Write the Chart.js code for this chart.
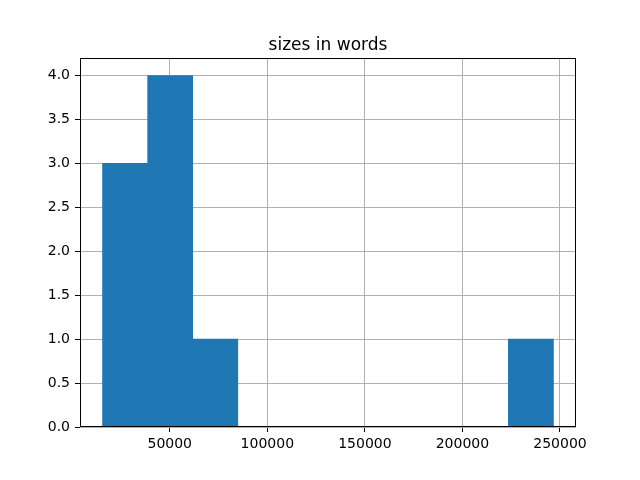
<!DOCTYPE html>
<html lang="en">
<head>
<meta charset="UTF-8">
<title>sizes in words</title>
<script src="https://cdn.jsdelivr.net/npm/chart.js"></script>
<style>
  html, body { margin: 0; padding: 0; background: #fff; }
  #wrap { width: 640px; height: 480px; }
</style>
</head>
<body>
<div id="wrap"><canvas id="histChart" width="640" height="480"></canvas></div>
<script>
// histogram data
const titleText = 'sizes in words';
const binEdges = [15550, 38660, 61770, 84880, 107990, 131100, 154210, 177320, 200430, 223540, 246650];
const counts = [3, 4, 1, 0, 0, 0, 0, 0, 0, 1];
const xTicks = [50000, 100000, 150000, 200000, 250000];
const yTicks = [0, 0.5, 1, 1.5, 2, 2.5, 3, 3.5, 4];

const span = binEdges[binEdges.length - 1] - binEdges[0];
const xMin = binEdges[0] - 0.05 * span;
const xMax = binEdges[binEdges.length - 1] + 0.05 * span;
const yMax = Math.max(...counts) * 1.05;

const points = counts.map((c, i) => ({ x: (binEdges[i] + binEdges[i + 1]) / 2, y: c }));

const FONT = 'DejaVu Sans';

// title over the axes + full black frame
const framePlugin = {
    id: 'frame',
    afterDraw(chart) {
        const { ctx, chartArea: a } = chart;
        ctx.save();
        ctx.strokeStyle = '#000';
        ctx.lineWidth = 1;
        ctx.strokeRect(a.left + 0.5, a.top + 0.5, a.right - a.left - 1, a.bottom - a.top - 1);
        ctx.fillStyle = '#000';
        ctx.font = '17px "' + FONT + '"';
        ctx.textAlign = 'center';
        ctx.textBaseline = 'alphabetic';
        ctx.fillText(titleText, (a.left + a.right) / 2, a.top - 8);
        ctx.restore();
    }
};

const gridOpts = { color: '#b0b0b0', lineWidth: 1, tickColor: '#000', tickLength: 5, offset: false };

new Chart(document.getElementById('histChart'), {
    type: 'bar',
    data: {
        datasets: [{
            data: points,
            backgroundColor: '#1f77b4',
            borderWidth: 0,
            barPercentage: 1,
            categoryPercentage: 1
        }]
    },
    options: {
        responsive: false,
        animation: false,
        events: [],
        layout: { padding: { top: 58, right: 64, left: 0, bottom: 0 } },
        plugins: { legend: { display: false }, title: { display: false }, tooltip: { enabled: false } },
        scales: {
            x: {
                type: 'linear',
                min: xMin,
                max: xMax,
                offset: false,
                z: 1,
                grid: gridOpts,
                border: { display: false },
                afterBuildTicks: s => { s.ticks = xTicks.map(v => ({ value: v })); },
                afterFit: s => { s.height = 53; },
                ticks: {
                    color: '#000',
                    padding: 4,
                    maxRotation: 0,
                    autoSkip: false,
                    font: { family: FONT, size: 14 },
                    callback: v => String(v)
                }
            },
            y: {
                min: 0,
                max: yMax,
                z: 1,
                grid: gridOpts,
                border: { display: false },
                afterBuildTicks: s => { s.ticks = yTicks.map(v => ({ value: v })); },
                afterFit: s => { s.width = 80; },
                ticks: {
                    color: '#000',
                    padding: 5,
                    autoSkip: false,
                    font: { family: FONT, size: 14 },
                    callback: v => Number(v).toFixed(1)
                }
            }
        }
    },
    plugins: [framePlugin]
});
</script>
</body>
</html>
